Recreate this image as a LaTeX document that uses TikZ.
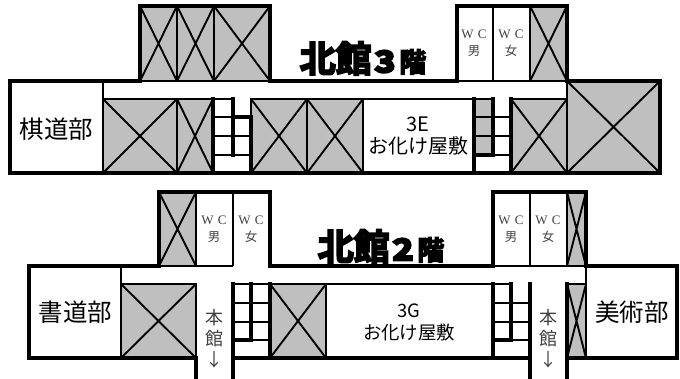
\documentclass[tikz,border=0pt]{standalone}
\usepackage{fontspec}
\setmainfont{Liberation Serif}
\newfontfamily\jp{Noto Sans CJK JP}
\newfontfamily\jpt[FakeBold=5]{Noto Sans CJK JP Bold}
\newfontfamily\jpd[FakeBold=9,FakeStretch=1.2]{Noto Sans CJK JP Bold}
\newcommand{\ttlA}[3]{{\fontsize{36}{36}\selectfont #1}\hspace{3pt}{\jpd\fontsize{29}{29}\selectfont #2}\hspace{4pt}{\fontsize{27}{27}\selectfont #3}}
\tikzset{
  x=1pt,y=-1pt,
  wall/.style={line width=3.2pt,line cap=rect},
  thin wall/.style={line width=1.9pt},
  graybox/.style={fill=black!25,draw=black,line width=1.9pt},
  txt/.style={inner sep=0pt,align=center,font=\jp},
  big/.style={txt,font=\jp\fontsize{24.5}{26}\selectfont},
  midA/.style={txt,font=\jp\fontsize{20}{22}\selectfont},
  midB/.style={txt,font=\jp\fontsize{18.4}{22}\selectfont},
  wc/.style={txt,text=black!75,font=\fontsize{13}{16.5}\selectfont},
  hon/.style={txt,text=black!75,font=\jp\fontsize{18}{21}\selectfont},
  ttl/.style={inner sep=0pt,anchor=base,font=\jpt},
}
\newcommand{\xroom}[4]{%
  \draw[graybox] (#1,#2) rectangle (#3,#4);
  \draw[line width=1.9pt] (#1,#2) -- (#3,#4) (#3,#2) -- (#1,#4);
}
\newcommand{\wclabel}[1]{W\,\,C\\{\jp\fontsize{12.5}{16.5}\selectfont #1}}
\begin{document}
\begin{tikzpicture}
\useasboundingbox (0,0) rectangle (680,378);
% --- 3F ---
\xroom{140}{6}{177}{81}\xroom{177}{6}{214}{81}\xroom{214}{6}{270}{81}
\xroom{530}{6}{567}{81}
\xroom{103}{99}{177}{173}\xroom{177}{99}{213}{173}
\xroom{251}{99}{307}{173}\xroom{307}{99}{363}{173}
\xroom{511}{99}{567}{173}\xroom{567}{81}{660}{173}
\fill[black!25] (475,99) rectangle (493,155);
\draw[thin wall] (103,81) -- (103,173) (103,99) -- (233,99) (251,99) -- (493,99) (363,99) -- (363,173);
\draw[thin wall] (493,6) -- (493,81) (530,6) -- (530,81) (457,81) -- (567,81);
\draw[thin wall] (213,117) -- (250,117) (213,136) -- (250,136) (213,155) -- (250,155);
\draw[thin wall] (474,117) -- (511,117) (474,136) -- (511,136) (474,155) -- (511,155);
\draw[wall] (10,81) -- (140,81) (140,81) -- (140,6) -- (270,6) -- (270,81) (270,81) -- (457,81) (457,81) -- (457,6) -- (567,6) -- (567,81);
\draw[wall] (567,81) -- (660,81) -- (660,173) -- (10,173) -- (10,81);
\draw[wall] (213,99) -- (213,173) (233,99) -- (233,155) (233,117) -- (251,117) (251,117) -- (251,173);
\draw[wall] (474,99) -- (474,173) (493,99) -- (493,155) -- (474,155) (511,99) -- (511,173);
\node[big] (kido) at (56.5,129) {棋道部};
\node[midA] (e3) at (418,136) {3E\\お化け屋敷};
\node[wc] (m3) at (474,43) {\wclabel{男}};
\node[wc] (f3) at (511,43) {\wclabel{女}};
\node[ttl] (t3) at (363,72) {\ttlA{北館}{3}{階}};
% --- 2F ---
\xroom{159}{192}{196}{266}\xroom{567}{192}{586}{266}
\xroom{121}{284}{196}{358}\xroom{270}{284}{326}{358}\xroom{567}{284}{586}{358}
\draw[thin wall] (121,266) -- (121,358) (233,192) -- (233,266) (196,266) -- (233,266) (233,284) -- (270,284) (326,284) -- (511,284);
\draw[thin wall] (530,192) -- (530,266) (493,266) -- (567,266) (586,266) -- (586,358);
\draw[thin wall] (233,303) -- (270,303) (233,322) -- (270,322) (233,340) -- (270,340);
\draw[thin wall] (493,303) -- (530,303) (493,322) -- (530,322) (493,340) -- (530,340);
\draw[wall] (196,358) -- (29,358) -- (29,266) -- (159,266) -- (159,192) -- (270,192) -- (270,266) -- (493,266) -- (493,192) -- (586,192) -- (586,266) -- (677,266) -- (677,358) -- (567,358);
\draw[wall] (196,358) -- (196,378) (233,284) -- (233,378) (233,358) -- (530,358) (530,284) -- (530,378) (567,284) -- (567,378);
\draw[wall] (233,340) -- (251,340) -- (251,284) (270,284) -- (270,358);
\draw[wall] (493,284) -- (493,358) (511,284) -- (511,340) -- (493,340);
\node[big] (sho) at (75.5,312) {書道部};
\node[big] (bi) at (632,312) {美術部};
\node[midB] (g3) at (409,322) {3G\\お化け屋敷};
\node[wc] (m2) at (214,229) {\wclabel{男}};
\node[wc] (f2) at (251,229) {\wclabel{女}};
\node[wc] (m2b) at (511,229) {\wclabel{男}};
\node[wc] (f2b) at (548,229) {\wclabel{女}};
\node[hon] (h1) at (214,339) {本\\館\\↓};
\node[hon] (h2) at (548,339) {本\\館\\↓};
\node[ttl] (t2) at (381,260) {\ttlA{北館}{2}{階}};
\end{tikzpicture}
\end{document}
